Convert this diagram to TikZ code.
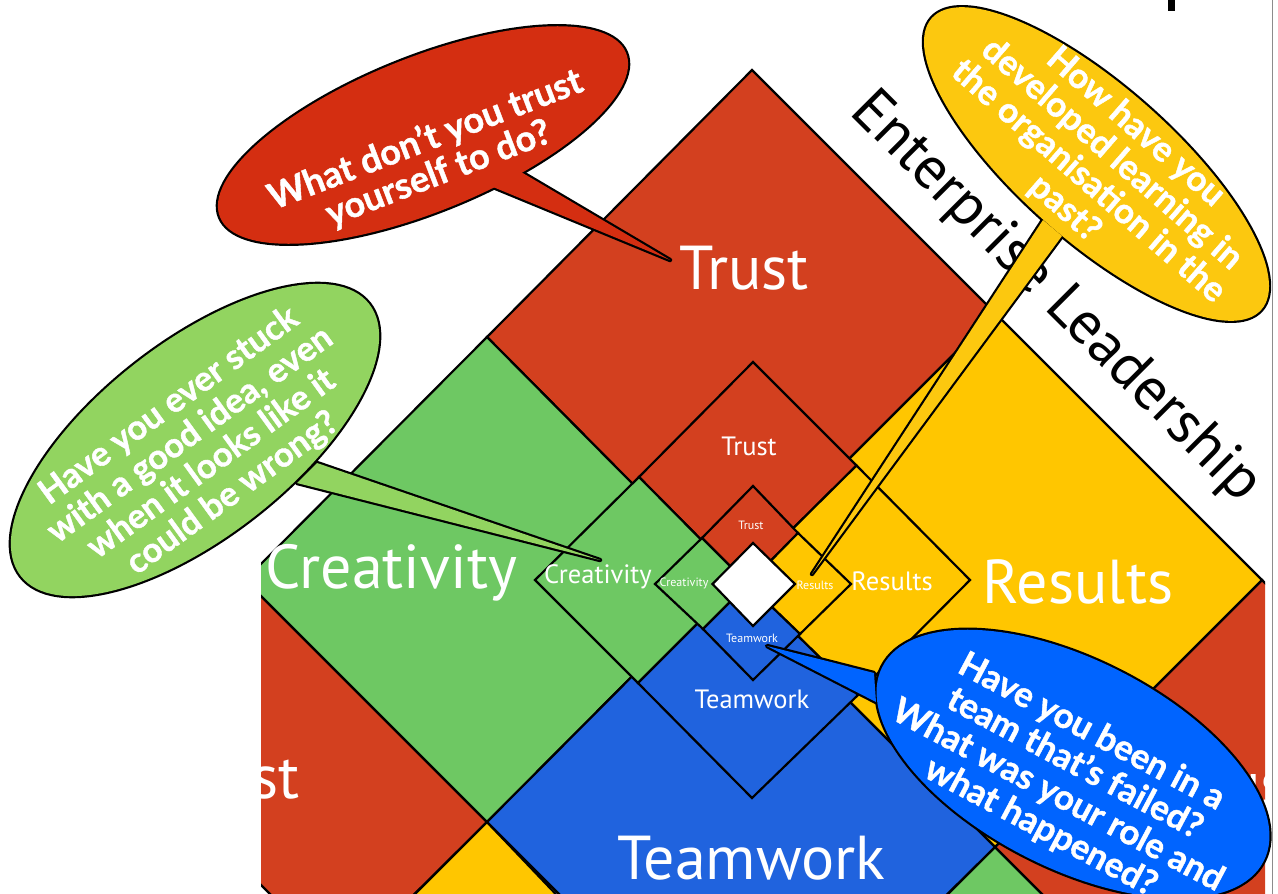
\documentclass[tikz,border=0pt]{standalone}
\usepackage{fontspec}
\setmainfont{PT Sans}
\newfontfamily\bubfont[BoldFeatures={FakeBold=1.2}]{Lato}
\definecolor{tred}{HTML}{D3401F}
\definecolor{tgreen}{HTML}{6EC863}
\definecolor{tyellow}{HTML}{FFC600}
\definecolor{tblue}{HTML}{2063DE}
\definecolor{bred}{HTML}{D42E11}
\definecolor{bgreen}{HTML}{92D460}
\definecolor{byellow}{HTML}{FCC80F}
\definecolor{bblue}{HTML}{0064FF}
\tikzset{
  tile/.style={draw=black,line width=2.2pt,line join=miter},
  lab/.style={text=white,inner sep=0pt,anchor=center},
  biglab/.style={lab,font=\fontsize{62}{62}\selectfont},
  midlab/.style={lab,font=\fontsize{26.5}{26.5}\selectfont},
  smalllab/.style={lab,font=\fontsize{12}{12}\selectfont},
  bubtext/.style={text=white,inner sep=0pt,align=center,font=\bubfont\bfseries\fontsize{#1}{36}\selectfont},
  outl/.style={draw=black,line width=4.4pt,line join=round},
}
% colour, cx, cy, a, b, angle, tail points
\newcommand{\spbubble}[7]{%
  \path[outl,rotate around={#6:(#2,#3)}] (#2,#3) ellipse [x radius=#4,y radius=#5];
  \path[outl] #7 -- cycle;
  \fill[#1,rotate around={#6:(#2,#3)}] (#2,#3) ellipse [x radius=#4,y radius=#5];
  \fill[#1] #7 -- cycle;
}
\begin{document}
\begin{tikzpicture}[x=1pt,y=-1pt]
\useasboundingbox (0,0) rectangle (1278,894);
\fill[white] (0,0) rectangle (1278,894);
\draw[gray!90,line width=1pt] (1272.5,0) -- (1272.5,894);
\fill[black] (1168,0) rectangle (1175,11);
\begin{scope}
\clip (261,0) rectangle (1265,894);
\node[rotate=-45,inner sep=0pt,font=\fontsize{60}{60}\selectfont] (title) at (1055,298) {Enterprise Leadership};
% lower row
\path[tile,fill=tred] (245,580) -- (487,822) -- (342,966) -- (100,724) -- cycle;
\path[tile,fill=tyellow] (487,822) -- (400,909) -- (570,909) -- cycle;
\path[tile,fill=tgreen] (995,847) -- (930,912) -- (1060,912) -- cycle;
\path[tile,fill=tred] (1262,580) -- (995,847) -- (1262,1114) -- (1529,847) -- cycle;
\node[biglab] (tl) at (235,777) {Trust};
\node[biglab] (tr) at (1243,784) {Trust};
% large
\path[tile,fill=tred] (752,70) -- (487,337) -- (728,580) -- (995,313) -- cycle;
\path[tile,fill=tgreen] (487,337) -- (245,580) -- (487,822) -- (728,580) -- cycle;
\path[tile,fill=tyellow] (995,313) -- (728,580) -- (995,847) -- (1262,580) -- cycle;
\path[tile,fill=tblue] (728,580) -- (487,822) -- (752,1087) -- (995,847) -- cycle;
\node[biglab] (l1) at (744,268) {Trust};
\node[biglab] (l2) at (391,573) {Creativity};
\node[biglab] (l3) at (1078,582) {Results};
\node[biglab] (l4) at (751,858) {Teamwork};
% mid
\path[tile,fill=tred] (753,362) -- (639,477) -- (741,580) -- (856.5,465.5) -- cycle;
\path[tile,fill=tgreen] (639,477) -- (535,580) -- (638,683) -- (741,580) -- cycle;
\path[tile,fill=tyellow] (856.5,465.5) -- (741,580) -- (857,694) -- (970,580) -- cycle;
\path[tile,fill=tblue] (741,580) -- (638,683) -- (752,798) -- (858,695) -- cycle;
\node[midlab] (m1) at (749,446) {Trust};
\node[midlab] (m2) at (598,577) {Creativity};
\node[midlab] (m3) at (892,581) {Results};
\node[midlab] (m4) at (752,699) {Teamwork};
% small
\path[tile,fill=tred] (753,486) -- (702,538) -- (748,584) -- (798,533) -- cycle;
\path[tile,fill=tgreen] (702,538) -- (655,584) -- (703,629) -- (748,584) -- cycle;
\path[tile,fill=tyellow] (798,533) -- (748,584) -- (800,634) -- (851,584) -- cycle;
\path[tile,fill=tblue] (748,584) -- (703,629) -- (753,680) -- (800,634) -- cycle;
\path[tile,fill=white] (753,543) -- (712.5,584) -- (753,626) -- (795,584) -- cycle;
\node[smalllab] (s1) at (751,525) {Trust};
\node[smalllab] (s2) at (684,583) {Creativity};
\node[smalllab] (s3) at (815,585) {Results};
\node[smalllab] (s4) at (752,638) {Teamwork};
\end{scope}
% bubbles
\begin{scope}
\clip (0,0) rectangle (1278,894);
\spbubble{bred}{423}{135}{219}{77}{22}{(521,172) -- (670,260) -- (493,187)}
\spbubble{bgreen}{195}{440}{221}{97}{38}{(317,463) -- (600,560) -- (297,483)}
\spbubble{byellow}{1096.5}{164}{220}{77}{-41.5}{(1043,220) -- (812,574) -- (1062,236)}
\spbubble{bblue}{1073}{764}{214}{104}{-27}{(874,673) -- (823,660) -- (767,646) -- (876,702)}
\end{scope}
\node[bubtext=36,rotate=21] (qa) at (432,157) {What don’t you trust\\yourself to do?};
\node[bubtext=34.5,rotate=36] (qb) at (201,450) {Have you ever stuck\\with a good idea, even\\when it looks like it\\could be wrong?};
\node[bubtext=35,rotate=-41] (qc) at (1100,168) {How have you\\developed learning in\\the organisation in the\\past?};
\node[bubtext=35,rotate=-28] (qd) at (1066,780) {Have you been in a\\team that’s failed?\\What was your role and\\what happened?};
\end{tikzpicture}
\end{document}
